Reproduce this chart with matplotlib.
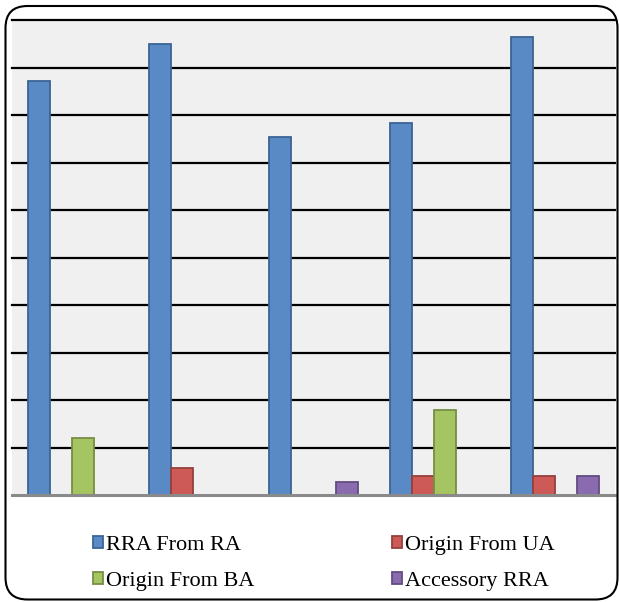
import matplotlib
matplotlib.use("Agg")
import matplotlib.pyplot as plt
import numpy as np
from matplotlib.patches import FancyBboxPatch
from matplotlib.transforms import IdentityTransform

# Data
groups = ["1", "2", "3", "4", "5"]
series_names = ["RRA From RA", "Origin From UA", "Origin From BA", "Accessory RRA"]
rra_from_ra = [87.2, 94.9, 75.4, 78.4, 96.4]
origin_from_ua = [0, 5.6, 0, 3.9, 4.0]
origin_from_ba = [12.0, 0, 0, 18.0, 0]
accessory_rra = [0, 0, 2.7, 0, 4.0]
y_ticks = [0, 10, 20, 30, 40, 50, 60, 70, 80, 90, 100]

fills = ["#5a8ac6", "#cd5a56", "#a5c462", "#8a6bb0"]
edges = ["#3a6494", "#94403d", "#768f45", "#634d80"]

W, H, DPI = 619, 602, 100
fig = plt.figure(figsize=(W / DPI, H / DPI), dpi=DPI)

# plot area in pixel-derived figure fractions
left, right, top, bottom = 12, 615, 20, 495
ax = fig.add_axes([left / W, (H - bottom) / H, (right - left) / W, (bottom - top) / H])
ax.set_facecolor("#f0f0f0")

x = np.arange(len(groups))
bw = 22 / 120.5
all_series = [rra_from_ra, origin_from_ua, origin_from_ba, accessory_rra]
handles = []
for i, (vals, fc, ec, name) in enumerate(zip(all_series, fills, edges, series_names)):
    b = ax.bar(x + (i - 1.5) * bw, vals, width=bw, color=fc, edgecolor=ec,
               linewidth=1.3, zorder=3, label=name)
    handles.append(b)

ax.set_xlim(-0.5, len(groups) - 0.5)
ax.set_ylim(y_ticks[0], y_ticks[-1])
for yv in y_ticks[1:]:
    ax.axhline(yv, color="black", linewidth=1.6, zorder=2, clip_on=False)

for s in ["top", "right", "left"]:
    ax.spines[s].set_visible(False)
ax.spines["bottom"].set_color("#8a8a8a")
ax.spines["bottom"].set_linewidth(2.2)
ax.spines["bottom"].set_zorder(4)
ax.set_xticks([])
ax.set_yticks([])

# legend laid out row by row: (RRA, UA) on the first row, (BA, Accessory) on the second
order = [0, 2, 1, 3]
leg = fig.legend([handles[i] for i in order], [series_names[i] for i in order],
                 loc="upper left",
                 bbox_to_anchor=(93 / W, (H - 536) / H), ncol=2,
                 frameon=False, borderpad=0, borderaxespad=0,
                 handlelength=0.45, handleheight=0.45, handletextpad=0.12,
                 columnspacing=6.2, labelspacing=0.75,
                 prop={"family": "Liberation Serif", "size": 16})

# rounded outer border
border = FancyBboxPatch((5.5, 2.5), 612, 593.5,
                        boxstyle="round,pad=0,rounding_size=22",
                        transform=IdentityTransform(), fill=False,
                        edgecolor="black", linewidth=1.5, zorder=10)
fig.patches.append(border)

fig.savefig("out.png", dpi=DPI)
